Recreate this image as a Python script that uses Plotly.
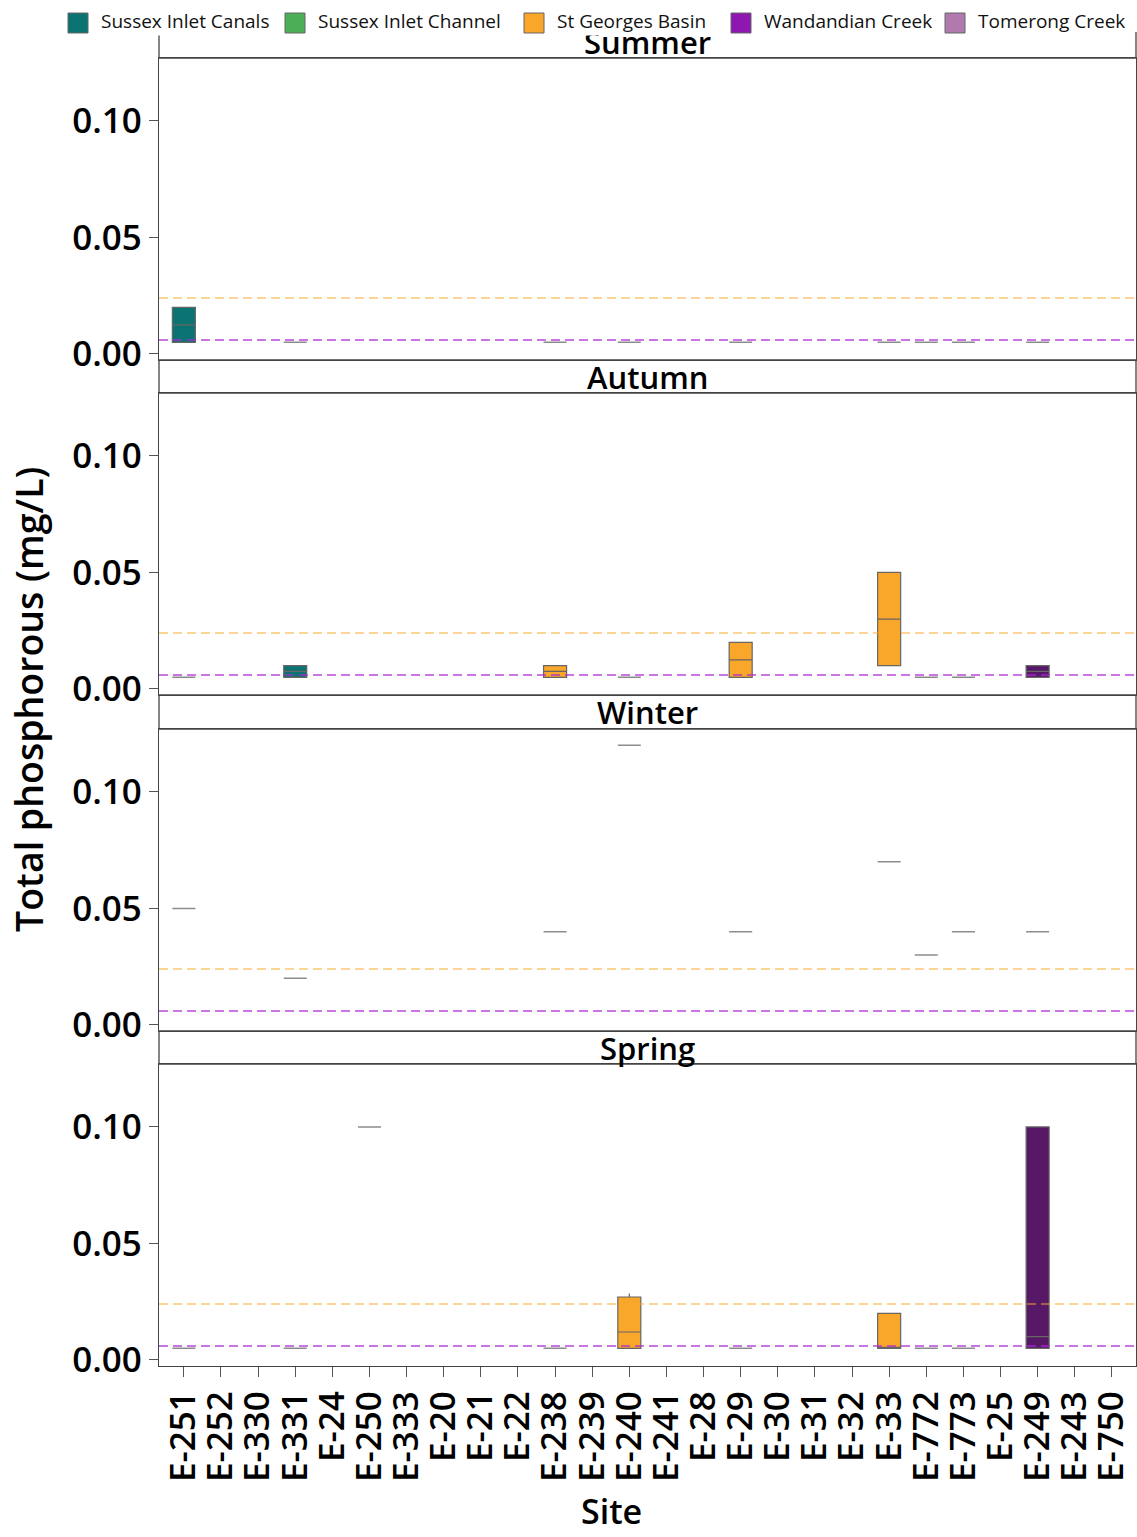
import plotly.graph_objects as go
from plotly.subplots import make_subplots

# ---------------- data ----------------
sites = ["E-251", "E-252", "E-330", "E-331", "E-24", "E-250", "E-333", "E-20", "E-21",
         "E-22", "E-238", "E-239", "E-240", "E-241", "E-28", "E-29", "E-30", "E-31",
         "E-32", "E-33", "E-772", "E-773", "E-25", "E-249", "E-243", "E-750"]
seasons = ["Summer", "Autumn", "Winter", "Spring"]

regions = ["Sussex Inlet Canals", "Sussex Inlet Channel", "St Georges Basin",
           "Wandandian Creek", "Tomerong Creek"]
region_colors = ["#0b7371", "#4caf55", "#f9a72b", "#8e17b1", "#b07aae"]

# region of each plotted site
site_region = {"E-251": "Sussex Inlet Canals", "E-331": "Sussex Inlet Canals",
               "E-250": "Sussex Inlet Channel",
               "E-238": "St Georges Basin", "E-240": "St Georges Basin",
               "E-29": "St Georges Basin", "E-33": "St Georges Basin",
               "E-772": "Wandandian Creek", "E-773": "Wandandian Creek",
               "E-249": "Wandandian Creek"}
box_fill = {"Sussex Inlet Canals": "#0b7371", "Sussex Inlet Channel": "#4caf55",
            "St Georges Basin": "#f9a72b", "Wandandian Creek": "#581868",
            "Tomerong Creek": "#b07aae"}

# Summer
summer_site = ["E-251", "E-331", "E-238", "E-240", "E-29", "E-33", "E-772", "E-773", "E-249"]
summer_q1 = [0.005, 0.005, 0.005, 0.005, 0.005, 0.005, 0.005, 0.005, 0.005]
summer_med = [0.0125, 0.005, 0.005, 0.005, 0.005, 0.005, 0.005, 0.005, 0.005]
summer_q3 = [0.02, 0.005, 0.005, 0.005, 0.005, 0.005, 0.005, 0.005, 0.005]
summer_hi = [0.02, 0.005, 0.005, 0.005, 0.005, 0.005, 0.005, 0.005, 0.005]

# Autumn
autumn_site = ["E-251", "E-331", "E-238", "E-240", "E-29", "E-33", "E-772", "E-773", "E-249"]
autumn_q1 = [0.005, 0.005, 0.005, 0.005, 0.005, 0.01, 0.005, 0.005, 0.005]
autumn_med = [0.005, 0.0075, 0.0075, 0.005, 0.0125, 0.03, 0.005, 0.005, 0.0075]
autumn_q3 = [0.005, 0.01, 0.01, 0.005, 0.02, 0.05, 0.005, 0.005, 0.01]
autumn_hi = [0.005, 0.01, 0.01, 0.005, 0.02, 0.05, 0.005, 0.005, 0.01]

# Winter
winter_site = ["E-251", "E-331", "E-238", "E-240", "E-29", "E-33", "E-772", "E-773", "E-249"]
winter_q1 = [0.05, 0.02, 0.04, 0.12, 0.04, 0.07, 0.03, 0.04, 0.04]
winter_med = [0.05, 0.02, 0.04, 0.12, 0.04, 0.07, 0.03, 0.04, 0.04]
winter_q3 = [0.05, 0.02, 0.04, 0.12, 0.04, 0.07, 0.03, 0.04, 0.04]
winter_hi = [0.05, 0.02, 0.04, 0.12, 0.04, 0.07, 0.03, 0.04, 0.04]

# Spring
spring_site = ["E-251", "E-331", "E-250", "E-238", "E-240", "E-29", "E-33", "E-772", "E-773", "E-249"]
spring_q1 = [0.005, 0.005, 0.1, 0.005, 0.005, 0.005, 0.005, 0.005, 0.005, 0.005]
spring_med = [0.005, 0.005, 0.1, 0.005, 0.012, 0.005, 0.005, 0.005, 0.005, 0.01]
spring_q3 = [0.005, 0.005, 0.1, 0.005, 0.027, 0.005, 0.02, 0.005, 0.005, 0.1]
spring_hi = [0.005, 0.005, 0.1, 0.005, 0.0285, 0.005, 0.02, 0.005, 0.005, 0.1]

season_data = [
    (summer_site, summer_q1, summer_med, summer_q3, summer_hi),
    (autumn_site, autumn_q1, autumn_med, autumn_q3, autumn_hi),
    (winter_site, winter_q1, winter_med, winter_q3, winter_hi),
    (spring_site, spring_q1, spring_med, spring_q3, spring_hi),
]

trigger_basin = 0.024
trigger_creek = 0.006

# ---------------- layout helpers ----------------
W, H = 1137, 1537
ML, MR, MT, MB = 159, 1, 0, 171
PH = H - MT - MB
PW = W - ML - MR
FONT = "Open Sans"

def py(p):
    return (PH - p) / PH

def px(p):
    return (p - ML) / PW

panel_px = [(58, 360), (393, 695), (729, 1031), (1064, 1366)]
strip_px = [(25, 58), (360, 393), (695, 729), (1031, 1064)]

fig = make_subplots(rows=4, cols=1, shared_xaxes=True, vertical_spacing=0.02)

for i, (s_site, s_q1, s_med, s_q3, s_hi) in enumerate(season_data):
    r = i + 1
    for st, a, m, b, h in zip(s_site, s_q1, s_med, s_q3, s_hi):
        flat = (a == b)
        reg = site_region.get(st, "St Georges Basin")
        fig.add_trace(go.Box(
            x=[st], q1=[a], median=[m], q3=[b], lowerfence=[a], upperfence=[h],
            width=0.62, showlegend=False, hoverinfo="skip",
            fillcolor="rgba(0,0,0,0)" if flat else box_fill[reg],
            line=dict(color="#8c8c8c" if flat else "#666666", width=1.5 if flat else 1.2),
            whiskerwidth=0,
        ), row=r, col=1)
    fig.add_hline(y=trigger_basin, row=r, col=1,
                  line=dict(color="rgba(249,167,43,0.65)", width=1.6, dash="9px,5px"))
    fig.add_hline(y=trigger_creek, row=r, col=1,
                  line=dict(color="rgba(170,40,210,0.85)", width=1.4, dash="9px,5px"))

# axes
for i in range(4):
    r = i + 1
    top, bot = panel_px[i]
    yname = "yaxis" if r == 1 else f"yaxis{r}"
    xname = "xaxis" if r == 1 else f"xaxis{r}"
    fig.layout[yname].update(
        domain=[py(bot), py(top)], range=[-0.0026, 0.127],
        tickmode="array", tickvals=[0, 0.05, 0.10], ticktext=["0.00", "0.05", "0.10"],
        ticks="outside", ticklen=9, tickcolor="#555", tickwidth=1.2,
        showline=True, linecolor="#444", linewidth=1.3, mirror=True,
        showgrid=False, zeroline=False,
        tickfont=dict(family=FONT, size=35, color="#000", weight=600),
    )
    fig.layout[xname].update(
        type="category", categoryorder="array", categoryarray=sites,
        range=[-0.67, 25.65], tickmode="array", tickvals=sites, ticktext=sites,
        showline=True, linecolor="#444", linewidth=1.3, mirror=True,
        showgrid=False, zeroline=False,
        ticks="outside" if r == 4 else "", ticklen=10, tickcolor="#555", tickwidth=1.2,
        tickangle=-90, tickfont=dict(family=FONT, size=35, color="#000", weight=600),
    )

shapes = list(fig.layout.shapes)
annotations = []
for i, name in enumerate(seasons):
    t, b = strip_px[i]
    shapes.append(dict(type="rect", xref="paper", yref="paper", x0=0, x1=1,
                       y0=py(b), y1=py(t), line=dict(color="#444", width=1.3),
                       fillcolor="rgba(0,0,0,0)"))
    annotations.append(dict(text=name, xref="paper", yref="paper", x=0.5,
                            y=py((t + b) / 2), xanchor="center", yanchor="middle",
                            showarrow=False,
                            font=dict(family=FONT, size=31, color="#000", weight=600)))

# white legend background band (hides the top edge of the first strip)
shapes.append(dict(type="rect", xref="paper", yref="paper",
                   x0=px(0), x1=px(W), y0=py(32), y1=py(0),
                   fillcolor="white", line=dict(width=0)))

# legend (drawn manually to keep the reference's exact positions)
legend_marker_x = [68, 285, 524, 731, 945]
for name, col, lx in zip(regions, region_colors, legend_marker_x):
    shapes.append(dict(type="rect", xref="paper", yref="paper",
                       x0=px(lx), x1=px(lx + 20), y0=py(33), y1=py(13),
                       fillcolor=col, line=dict(color="#666", width=1)))
    annotations.append(dict(text=name, xref="paper", yref="paper", x=px(lx + 31),
                            y=py(21), xanchor="left", yanchor="middle", showarrow=False,
                            bgcolor="white",
                            font=dict(family=FONT, size=19, color="#111")))

annotations.append(dict(text="Total phosphorous (mg/L)", xref="paper", yref="paper",
                        x=px(28), y=py(700), textangle=-90,
                        xanchor="center", yanchor="middle", showarrow=False,
                        font=dict(family=FONT, size=37.5, color="#000", weight=600)))
annotations.append(dict(text="Site", xref="paper", yref="paper",
                        x=px(611), y=py(1511),
                        xanchor="center", yanchor="middle", showarrow=False,
                        font=dict(family=FONT, size=34, color="#000", weight=600)))

fig.update_layout(
    width=W, height=H, margin=dict(l=ML, r=MR, t=MT, b=MB, autoexpand=False),
    paper_bgcolor="white", plot_bgcolor="white",
    boxmode="overlay", shapes=shapes, annotations=annotations,
    showlegend=False,
)

fig.write_html("out.html")
